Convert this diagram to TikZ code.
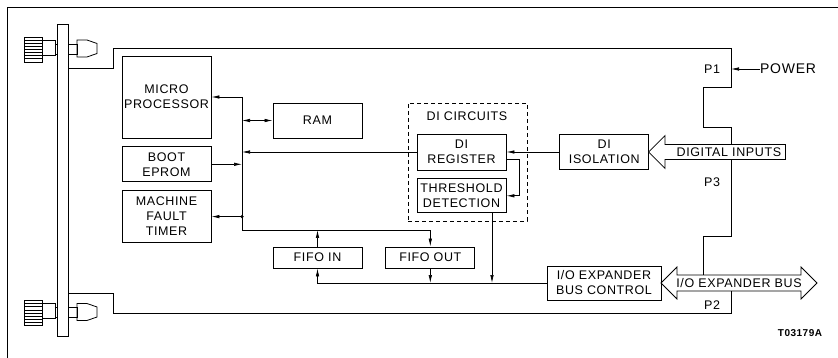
\documentclass[tikz,border=0pt]{standalone}
\usepackage{fontspec}
\setmainfont{Liberation Sans}[LetterSpace=5]
\usetikzlibrary{arrows.meta, positioning, shapes.arrows}

\begin{document}
\begin{tikzpicture}[x=1pt, y=-1pt,
  box/.style={draw, line width=0.8pt, align=center, inner sep=1pt, minimum width=89pt, font=\fontsize{12.5}{15}\selectfont},
  arr/.style={-{Latex[length=8pt, width=3.5pt]}, line width=0.7pt},
  biarr/.style={{Latex[length=8pt, width=3.5pt]}-{Latex[length=8pt, width=3.5pt]}, line width=0.7pt},
  wire/.style={line width=0.8pt},
  lbl/.style={font=\fontsize{12.5}{15}\selectfont, inner sep=0pt},
  bigarr/.style={draw, fill=white, line width=0.8pt, inner sep=2pt, font=\fontsize{12.5}{15}\selectfont}
]
  \useasboundingbox (0,0) rectangle (838,358);
  % frame and front plate
  \draw[wire] (838,7) -- (7,7) -- (7,358);
  \draw[wire] (57,24) rectangle (68,336);
  \foreach \cy in {49.5,313} {
    \draw[wire] (24,\cy-12.5) rectangle (42,\cy+12.5);
    \foreach \k in {1,...,7}
      \draw[line width=0.5pt] (24,\cy-12.5+3.1*\k) -- (42,\cy-12.5+3.1*\k);
    \draw[wire] (42,\cy-9.5) rectangle (55,\cy+5.5);
    \draw[wire] (55,\cy-5.5) rectangle (57,\cy+4.5);
    \draw[wire] (68,\cy-5.5) rectangle (77,\cy+4.5);
    \draw[wire] (77,\cy-9.5) -- (87,\cy-9.5) -- (97,\cy-6) -- (97,\cy+4) -- (87,\cy+7.5) -- (77,\cy+7.5) -- cycle;
  }
  % board outline
  \draw[wire] (68,68) -- (113,68) -- (113,48) -- (731,48) -- (731,87) -- (703,87) -- (703,127)
    -- (731,127) -- (731,236) -- (703,236) -- (703,283);
  \draw[wire] (731,283) -- (731,313) -- (113,313) -- (113,293) -- (68,293);

  % blocks
  \node[box, minimum height=82pt] (mp) at (166.5,97) {MICRO\\PROCESSOR};
  \node[box, minimum height=35pt, below=8pt of mp] (eprom) {BOOT\\EPROM};
  \node[box, minimum height=52pt, below=8pt of eprom] (mft) {MACHINE\\FAULT\\TIMER};
  \node[box, minimum height=35pt] (ram) at (317.5,120.5) {RAM};
  \node[draw, line width=0.8pt, dash pattern=on 4pt off 3pt, minimum width=119pt, minimum height=118pt] (dicirc) at (467.5,162) {};
  \node[lbl] (dititle) at (467,116) {DI CIRCUITS};
  \node[box, minimum height=36pt] (direg) at (461.5,152) {DI\\REGISTER};
  \node[box, minimum height=34pt, below=8pt of direg] (thresh) {THRESHOLD\\DETECTION};
  \node[box, minimum height=35pt, right=53pt of direg] (diiso) {DI\\ISOLATION};
  \node[box, minimum height=21pt] (fifoin) at (317.5,257.5) {FIFO IN};
  \node[box, minimum height=21pt, right=23pt of fifoin] (fifoout) {FIFO OUT};
  \node[box, minimum width=114pt, minimum height=34pt] (ioctrl) at (604,283) {I/O EXPANDER\\BUS CONTROL};

  % connectors
  \node[bigarr, single arrow, shape border rotate=180, single arrow head extend=8pt,
    minimum height=137pt, minimum width=33pt, anchor=tip] (diin) at (648,152) {\hspace{16pt}DIGITAL INPUTS};
  \node[bigarr, double arrow, double arrow head extend=7pt,
    minimum height=156pt, minimum width=32pt] (iobus) at (739,283) {I/O EXPANDER BUS};
  \node[lbl] (p1) at (712,69) {P1};
  \node[lbl] (p3) at (712,182) {P3};
  \node[lbl] (p2) at (712,305) {P2};
  \node[lbl, anchor=west, font=\fontsize{14}{16}\selectfont] (power) at (760,69) {POWER};
  \coordinate (p1in) at (731,69);
  \draw[arr] (power.west) -- (p1in);

  % internal bus
  \coordinate (bx) at (242,230);
  \draw[wire] (mp.east -| bx) -- (bx);
  \draw[arr] (mp.east -| bx) -- (mp.east);
  \draw[biarr] (ram.west -| bx) -- (ram.west);
  \draw[arr] (direg.west) -- (direg.west -| bx);
  \draw[arr] (eprom.east) -- (eprom.east -| bx);
  \draw[arr] (mft.east -| bx) -- (mft.east);
  \fill (mft.east -| bx) circle (1.8pt);
  \draw[arr] (bx) -| (fifoout.north);
  \draw[arr] (fifoin.north) -- (fifoin.north |- bx);
  \draw[arr] (diiso.west) -- (direg.east);
  \draw[arr] ([yshift=-7pt]direg.east) -- ++(13pt,0pt) |- (thresh.east);
  \draw[arr] ([xshift=30.5pt]thresh.south) -- ([xshift=30.5pt]thresh.south |- ioctrl.west);
  \draw[arr] (fifoout.south) -- (fifoout.south |- ioctrl.west);
  \draw[arr] (ioctrl.west) -| (fifoin.south);

  \node[font=\fontsize{10}{12}\selectfont\bfseries, inner sep=0pt] (figno) at (800,333) {T03179A};
\end{tikzpicture}
\end{document}
